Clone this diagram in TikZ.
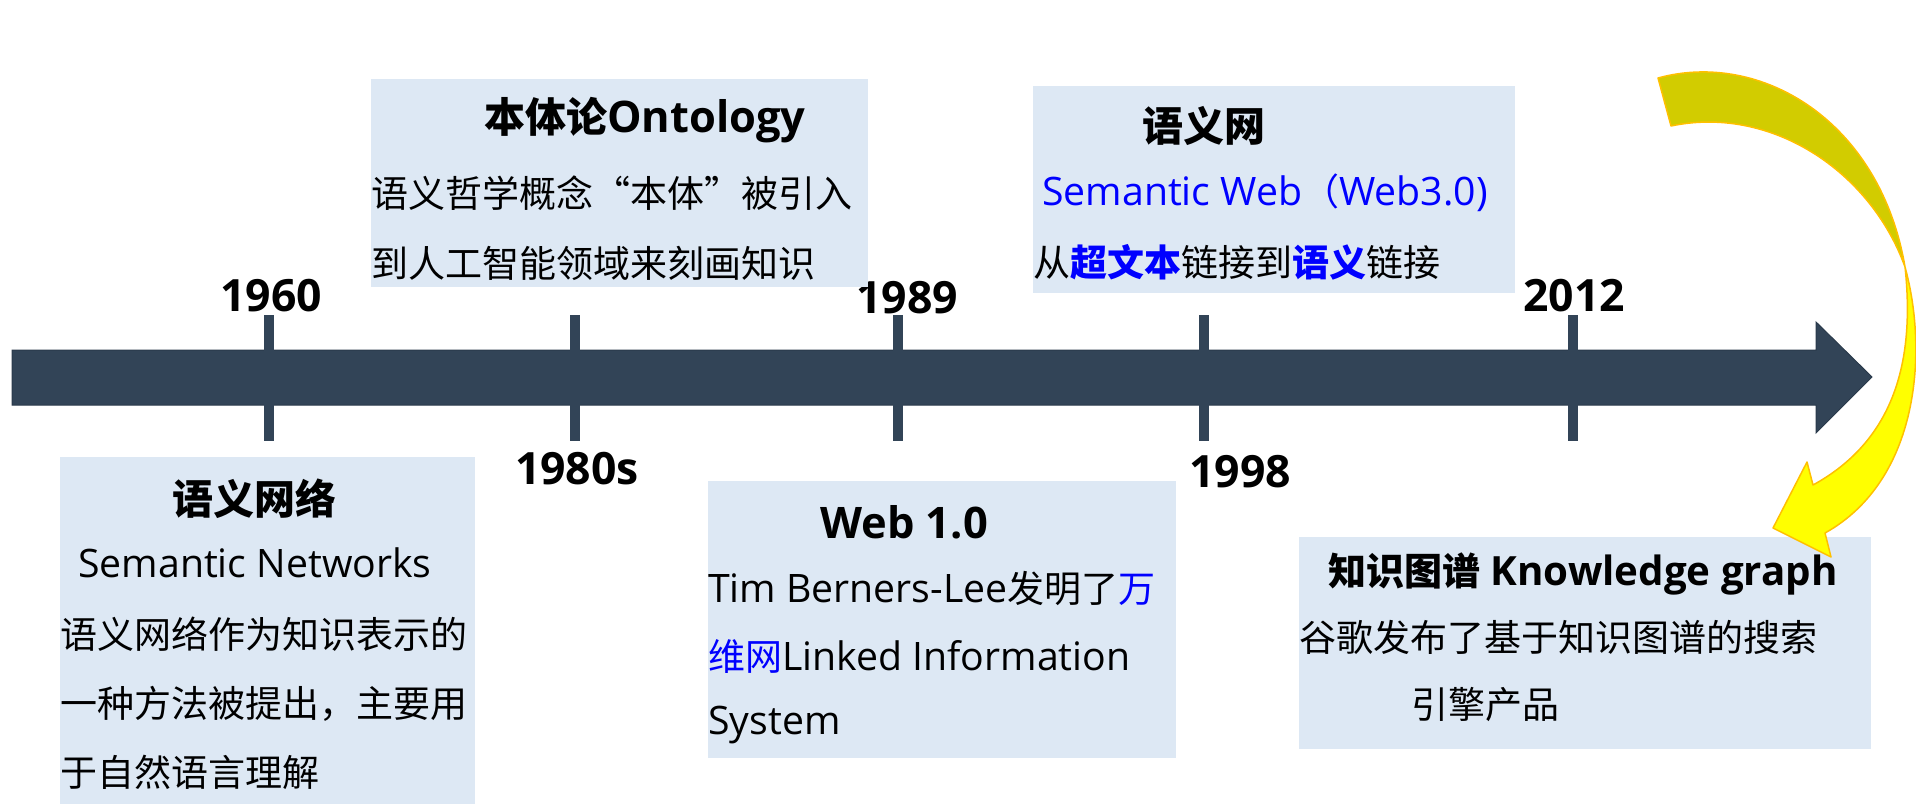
\documentclass[tikz,border=0pt]{standalone}
\usepackage{fontspec}
\setmainfont{Open Sans}[Scale=1.06]
\newfontfamily\cjk{Noto Sans CJK SC}
\definecolor{barcol}{HTML}{324457}
\definecolor{barline}{HTML}{2A3A4B}
\definecolor{boxbg}{HTML}{DDE8F4}
\definecolor{arrowdark}{HTML}{D2CC00}
\definecolor{arrowlight}{HTML}{FFFF00}
\definecolor{arrowline}{HTML}{FFC000}
\definecolor{linkblue}{HTML}{0000FF}
\begin{document}
\begin{tikzpicture}[x=1pt,y=-1pt,
  card/.style={fill=boxbg, draw=none, inner sep=0, anchor=north west},
  body/.style={inner sep=0, anchor=west, font=\fontsize{37}{44}\selectfont},
  title/.style={inner sep=0, anchor=center, font=\fontsize{41}{48}\selectfont\bfseries},
  year/.style={inner sep=0, anchor=center, font=\fontsize{42}{50}\selectfont\bfseries},
  tickline/.style={draw=barcol, line width=10pt},
  ribbon/.style={draw=arrowline, line width=1.5pt, line join=round},
]
\useasboundingbox (0,0) rectangle (1916,811);

% timeline bar
\fill[barcol, draw=barline, line width=1pt] (12,350) -- (1816,350) -- (1816,322) -- (1872,377) -- (1816,433) -- (1816,405) -- (12,405) -- cycle;
\coordinate (k1a) at (269,315); \coordinate (k1b) at (269,441);
\coordinate (k2a) at (575,315); \coordinate (k2b) at (575,441);
\coordinate (k3a) at (898,315); \coordinate (k3b) at (898,441);
\coordinate (k4a) at (1204,315); \coordinate (k4b) at (1204,441);
\coordinate (k5a) at (1573,315); \coordinate (k5b) at (1573,441);
\draw[tickline] (k1a) -- (k1b);
\draw[tickline] (k2a) -- (k2b);
\draw[tickline] (k3a) -- (k3b);
\draw[tickline] (k4a) -- (k4b);
\draw[tickline] (k5a) -- (k5b);

% years
\node[year] (y1) at (271,296) {1960};
\node[year] (y2) at (577,469) {1980s};
\node[year] (y3) at (907,298) {1989};
\node[year] (y4) at (1240,472) {1998};
\node[year] (y5) at (1574,296) {2012};

% boxes
\node[card, minimum width=497, minimum height=208] (b1) at (371,79) {};
\node[card, minimum width=482, minimum height=207] (b2) at (1033,86) {};
\node[card, minimum width=415, minimum height=347] (b3) at (60,457) {};
\node[card, minimum width=468, minimum height=277] (b4) at (708,481) {};
\node[card, minimum width=572, minimum height=212] (b5) at (1299,537) {};

% box 1
\node[title] (t1) at (645,120) {{\cjk 本体论}Ontology};
\node[body] (t1a) at (371,193) {\cjk 语义哲学概念“本体”被引入};
\node[body] (t1b) at (371,263) {\cjk 到人工智能领域来刻画知识};

% box 2
\node[title] (t2) at (1204,126) {\cjk 语义网};
\node[body, text=linkblue] (t2a) at (1042,193) {Semantic Web{\cjk （}Web3.0)};
\node[body] (t2b) at (1033,262) {\cjk 从{\bfseries\color{linkblue}超文本}链接到{\bfseries\color{linkblue}语义}链接};

% box 3
\node[title] (t3) at (254,499) {\cjk 语义网络};
\node[body] (t3a) at (78,563) {Semantic Networks};
\node[body] (t3b) at (60,634) {\cjk 语义网络作为知识表示的};
\node[body] (t3c) at (60,704) {\cjk 一种方法被提出，主要用};
\node[body] (t3d) at (60,772) {\cjk 于自然语言理解};

% box 4
\node[title] (t4) at (904,522) {Web 1.0};
\node[body] (t4a) at (708,588) {Tim Berners-Lee{\cjk 发明了\textcolor{linkblue}{万}}};
\node[body] (t4b) at (708,656) {{\cjk\color{linkblue}维网}Linked Information};
\node[body] (t4c) at (708,725) {System};

% box 5
\node[title, font=\fontsize{38}{46}\selectfont\bfseries] (t5) at (1583,574) {{\cjk 知识图谱} Knowledge graph};
\node[body] (t5a) at (1299,637) {\cjk 谷歌发布了基于知识图谱的搜索};
\node[body] (t5b) at (1411,705) {\cjk 引擎产品};

% curved yellow arrow
\fill[arrowlight] (1905,267) .. controls (1928,350) and (1920,480) .. (1825,533)
  -- (1831,557) -- (1773,528) -- (1807,462) -- (1813,485)
  .. controls (1895,440) and (1915,360) .. (1905,267) -- cycle;
\draw[ribbon] (1905,267) .. controls (1928,350) and (1920,480) .. (1825,533)
  -- (1831,557) -- (1773,528) -- (1807,462) -- (1813,485)
  .. controls (1895,440) and (1915,360) .. (1905,267);
\filldraw[ribbon, fill=arrowdark] (1658,78) .. controls (1760,50) and (1880,120) .. (1905,267)
  .. controls (1870,170) and (1770,105) .. (1671,126) -- cycle;
\end{tikzpicture}
\end{document}
